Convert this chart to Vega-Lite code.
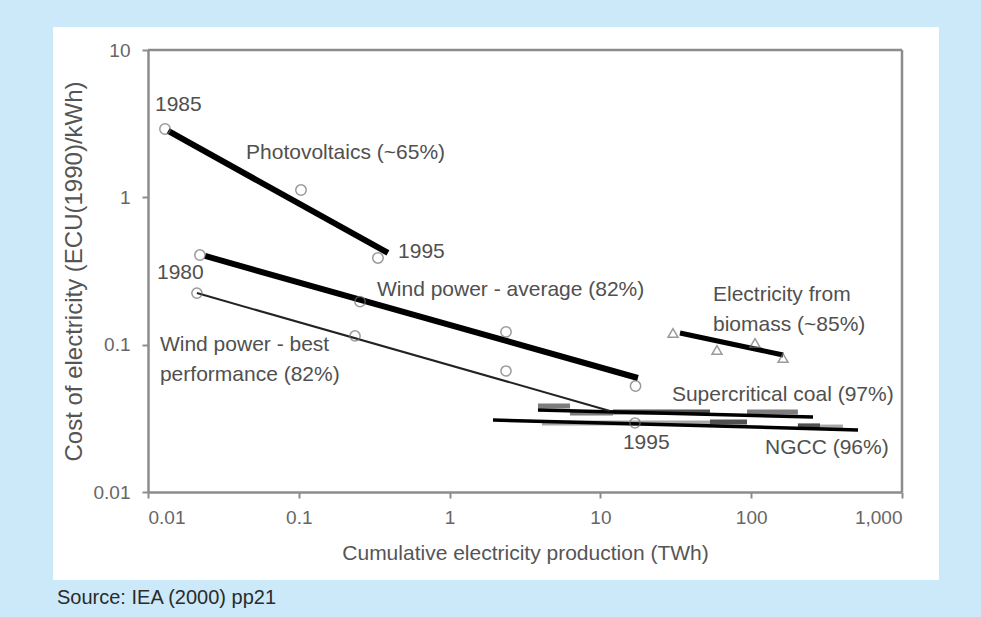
{
  "$schema": "https://vega.github.io/schema/vega-lite/v6.json",
  "autosize": {"type": "none"},
  "padding": {"left": 148, "top": 50, "right": 79, "bottom": 125},
  "width": 754,
  "height": 442,
  "background": "#cce9fa",
  "config": {
    "view": {"stroke": null},
    "font": "Liberation Sans",
    "axis": {
      "grid": false,
      "domainColor": "#8c8c8c",
      "domainWidth": 2.5,
      "tickColor": "#8c8c8c",
      "tickWidth": 2,
      "tickSize": 6,
      "labelFont": "Liberation Sans",
      "labelFontSize": 19,
      "labelColor": "#666666",
      "titleFont": "Liberation Sans",
      "titleFontWeight": "normal",
      "titleColor": "#555555"
    }
  },
  "title": {
    "text": "Source: IEA (2000) pp21",
    "orient": "bottom",
    "anchor": "start",
    "frame": "group",
    "dx": -91,
    "offset": 8,
    "fontSize": 20,
    "font": "Liberation Sans",
    "fontWeight": "normal",
    "color": "#2b2b2b"
  },
  "datasets": {
    "panel": [{"x0": 0.002344, "x1": 1758, "y0": 0.00253, "y1": 14.35}],
    "frame": [
      {"x": 0.01, "x2": 1000, "y": 10, "y2": 10},
      {"x": 1000, "x2": 1000, "y": 0.01, "y2": 10}
    ],
    "segments": [
      {"x": 3.855, "x2": 6.29, "y": 0.0384, "shade": "mid"},
      {"x": 6.29, "x2": 12.12, "y": 0.0344, "shade": "mid"},
      {"x": 12.12, "x2": 53.3, "y": 0.0349, "shade": "dark"},
      {"x": 93.8, "x2": 204, "y": 0.0349, "shade": "mid"},
      {"x": 4.1, "x2": 53.3, "y": 0.0294, "shade": "light"},
      {"x": 53.3, "x2": 93.8, "y": 0.0299, "shade": "dark"},
      {"x": 204, "x2": 286, "y": 0.0281, "shade": "dark"},
      {"x": 286, "x2": 406, "y": 0.0276, "shade": "light"}
    ],
    "fits": [
      {"series": "PV", "x": 0.0136, "y": 2.82},
      {"series": "PV", "x": 0.39, "y": 0.419},
      {"series": "WindAvg", "x": 0.0239, "y": 0.4},
      {"series": "WindAvg", "x": 17.74, "y": 0.0594},
      {"series": "WindBest", "x": 0.0211, "y": 0.224},
      {"series": "WindBest", "x": 11.58, "y": 0.0355},
      {"series": "Biomass", "x": 33.7, "y": 0.12},
      {"series": "Biomass", "x": 162.6, "y": 0.0851},
      {"series": "Coal", "x": 3.855, "y": 0.036},
      {"series": "Coal", "x": 257, "y": 0.0323},
      {"series": "NGCC", "x": 1.94, "y": 0.0308},
      {"series": "NGCC", "x": 511, "y": 0.0264}
    ],
    "points": [
      {"series": "PV", "x": 0.01297, "y": 2.91},
      {"series": "PV", "x": 0.1034, "y": 1.12},
      {"series": "PV", "x": 0.335, "y": 0.388},
      {"series": "WindAvg", "x": 0.0221, "y": 0.406},
      {"series": "WindAvg", "x": 0.2547, "y": 0.196},
      {"series": "WindAvg", "x": 2.366, "y": 0.122},
      {"series": "WindAvg", "x": 17.1, "y": 0.0524},
      {"series": "WindBest", "x": 0.0211, "y": 0.224},
      {"series": "WindBest", "x": 0.236, "y": 0.1146},
      {"series": "WindBest", "x": 2.366, "y": 0.0663},
      {"series": "WindBest", "x": 16.96, "y": 0.0294},
      {"series": "Biomass", "x": 30.3, "y": 0.12},
      {"series": "Biomass", "x": 59.3, "y": 0.092},
      {"series": "Biomass", "x": 106, "y": 0.1027},
      {"series": "Biomass", "x": 162.6, "y": 0.0812}
    ],
    "labels": [
      {"text": "1985", "x": 0.01113, "y": 4.24},
      {"text": "Photovoltaics (~65%)", "x": 0.0447, "y": 2.0},
      {"text": "1995", "x": 0.455, "y": 0.426},
      {"text": "1980", "x": 0.01147, "y": 0.307},
      {"text": "Wind power - average (82%)", "x": 0.33, "y": 0.235},
      {"text": "Wind power - best", "x": 0.012, "y": 0.0995},
      {"text": "performance (82%)", "x": 0.012, "y": 0.0622},
      {"text": "Electricity from", "x": 55.8, "y": 0.217},
      {"text": "biomass (~85%)", "x": 55.8, "y": 0.136},
      {"text": "Supercritical coal (97%)", "x": 29.8, "y": 0.0456},
      {"text": "1995", "x": 14.1, "y": 0.0215},
      {"text": "NGCC (96%)", "x": 123.4, "y": 0.0199}
    ]
  },
  "layer": [
    {
      "data": {"name": "panel"},
      "mark": {"type": "rect", "fill": "white", "clip": false},
      "encoding": {
        "x": {
          "field": "x0", "type": "quantitative",
          "scale": {"type": "log", "domain": [0.01, 1000], "nice": false},
          "axis": {
            "zindex": 1,
            "title": "Cumulative electricity production (TWh)",
            "titleFontSize": 21,
            "titlePadding": 15,
            "labelPadding": 10,
            "values": [0.01, 0.1, 1, 10, 100, 1000],
            "format": ",~g"
          }
        },
        "x2": {"field": "x1"},
        "y": {
          "field": "y0", "type": "quantitative",
          "scale": {"type": "log", "domain": [0.01, 10], "nice": false},
          "axis": {
            "zindex": 1,
            "title": "Cost of electricity (ECU(1990)/kWh)",
            "titleFontSize": 24,
            "titlePadding": 7,
            "labelPadding": 12,
            "values": [0.01, 0.1, 1, 10],
            "format": "~g"
          }
        },
        "y2": {"field": "y1"}
      }
    },
    {
      "data": {"name": "segments"},
      "mark": {"type": "rule", "strokeWidth": 5},
      "encoding": {
        "x": {"field": "x", "type": "quantitative"},
        "x2": {"field": "x2"},
        "y": {"field": "y", "type": "quantitative"},
        "color": {
          "field": "shade", "type": "nominal",
          "scale": {"domain": ["light", "mid", "dark"], "range": ["#a8a8a8", "#7d7d7d", "#505050"]},
          "legend": null
        }
      }
    },
    {
      "data": {"name": "fits"},
      "transform": [{"filter": "datum.series === 'PV' || datum.series === 'WindAvg'"}],
      "mark": {"type": "line", "color": "black", "strokeWidth": 6, "strokeCap": "butt"},
      "encoding": {
        "x": {"field": "x", "type": "quantitative"},
        "y": {"field": "y", "type": "quantitative"},
        "detail": {"field": "series"}
      }
    },
    {
      "data": {"name": "fits"},
      "transform": [{"filter": "datum.series === 'Biomass'"}],
      "mark": {"type": "line", "color": "black", "strokeWidth": 5, "strokeCap": "butt"},
      "encoding": {
        "x": {"field": "x", "type": "quantitative"},
        "y": {"field": "y", "type": "quantitative"},
        "detail": {"field": "series"}
      }
    },
    {
      "data": {"name": "fits"},
      "transform": [{"filter": "datum.series === 'Coal' || datum.series === 'NGCC'"}],
      "mark": {"type": "line", "color": "black", "strokeWidth": 3.5, "strokeCap": "butt"},
      "encoding": {
        "x": {"field": "x", "type": "quantitative"},
        "y": {"field": "y", "type": "quantitative"},
        "detail": {"field": "series"}
      }
    },
    {
      "data": {"name": "fits"},
      "transform": [{"filter": "datum.series === 'WindBest'"}],
      "mark": {"type": "line", "color": "#222222", "strokeWidth": 2, "strokeCap": "butt"},
      "encoding": {
        "x": {"field": "x", "type": "quantitative"},
        "y": {"field": "y", "type": "quantitative"},
        "detail": {"field": "series"}
      }
    },
    {
      "data": {"name": "points"},
      "mark": {"type": "point", "filled": false, "stroke": "#707070", "strokeWidth": 1.5},
      "encoding": {
        "x": {"field": "x", "type": "quantitative"},
        "y": {"field": "y", "type": "quantitative"},
        "shape": {
          "field": "series", "type": "nominal",
          "scale": {"domain": ["PV", "WindAvg", "WindBest", "Biomass"], "range": ["circle", "circle", "circle", "triangle-up"]},
          "legend": null
        },
        "size": {
          "field": "series", "type": "nominal",
          "scale": {"domain": ["PV", "WindAvg", "WindBest", "Biomass"], "range": [110, 100, 50, 110]},
          "legend": null
        }
      }
    },
    {
      "data": {"name": "labels"},
      "mark": {"type": "text", "align": "left", "baseline": "middle", "font": "Liberation Sans", "fontSize": 21, "color": "#505050"},
      "encoding": {
        "x": {"field": "x", "type": "quantitative"},
        "y": {"field": "y", "type": "quantitative"},
        "text": {"field": "text"}
      }
    },
    {
      "data": {"name": "frame"},
      "mark": {"type": "rule", "color": "#8c8c8c", "strokeWidth": 2.5},
      "encoding": {
        "x": {"field": "x", "type": "quantitative"},
        "x2": {"field": "x2"},
        "y": {"field": "y", "type": "quantitative"},
        "y2": {"field": "y2"}
      }
    }
  ]
}
